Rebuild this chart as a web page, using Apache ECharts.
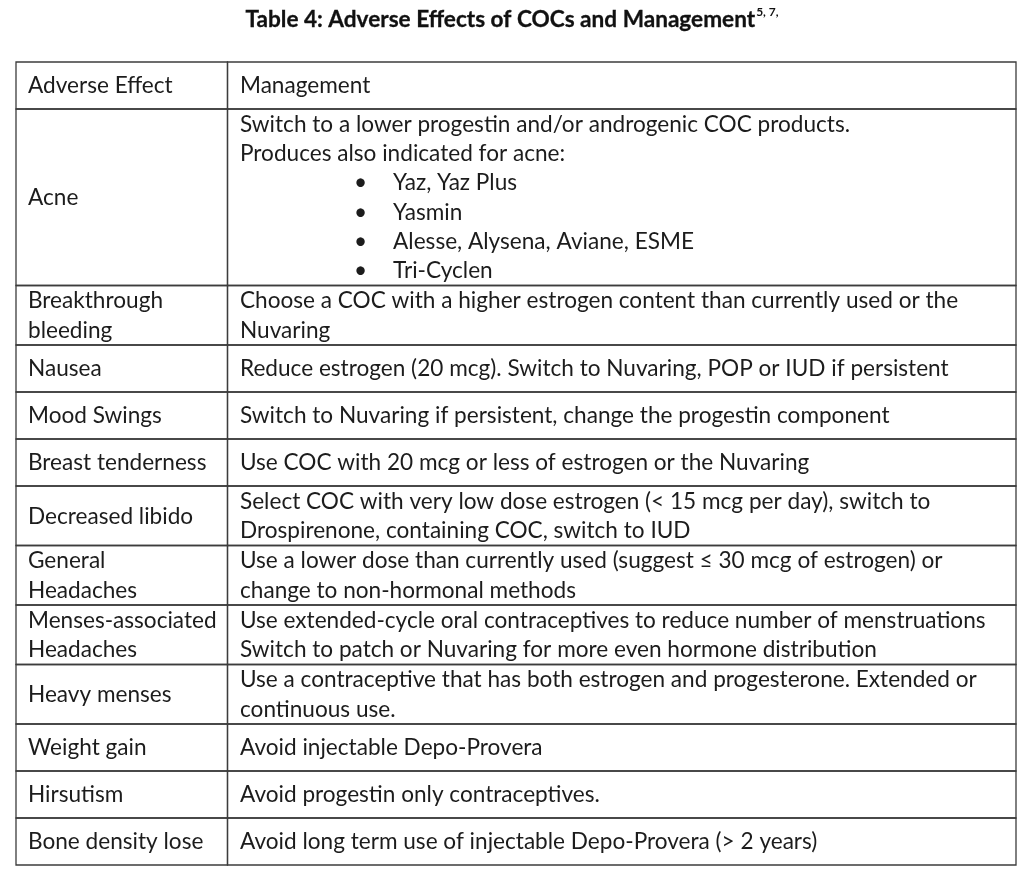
<!DOCTYPE html>
<html><head><meta charset="utf-8">
<script src="https://cdn.jsdelivr.net/npm/echarts@6/dist/echarts.min.js"></script>
</head><body style="margin:0;background:#fff">
<div id="c" style="width:1024px;height:871px"></div>
<script>
// table contents
const headers = ["Adverse Effect", "Management"];
const effects = [
  "Acne",
  "Breakthrough\nbleeding",
  "Nausea",
  "Mood Swings",
  "Breast tenderness",
  "Decreased libido",
  "General\nHeadaches",
  "Menses-associated\nHeadaches",
  "Heavy menses",
  "Weight gain",
  "Hirsutism",
  "Bone density lose",
];
const management = [
  "Switch to a lower progestin and/or androgenic COC products.\nProduces also indicated for acne:",
  "Choose a COC with a higher estrogen content than currently used or the\nNuvaring",
  "Reduce estrogen (20 mcg). Switch to Nuvaring, POP or IUD if persistent",
  "Switch to Nuvaring if persistent, change the progestin component",
  "Use COC with 20 mcg or less of estrogen or the Nuvaring",
  "Select COC with very low dose estrogen (< 15 mcg per day), switch to\nDrospirenone, containing COC, switch to IUD",
  "Use a lower dose than currently used (suggest \u2264 30 mcg of estrogen) or\nchange to non-hormonal methods",
  "Use extended-cycle oral contraceptives to reduce number of menstruations\nSwitch to patch or Nuvaring for more even hormone distribution",
  "Use a contraceptive that has both estrogen and progesterone. Extended or\ncontinuous use.",
  "Avoid injectable Depo-Provera",
  "Avoid progestin only contraceptives.",
  "Avoid long term use of injectable Depo-Provera (> 2 years)",
];
const acneProducts = ["Yaz, Yaz Plus", "Yasmin", "Alesse, Alysena, Aviane, ESME", "Tri-Cyclen"];

const FONT = "Lato";
const FS = 22.6;
const LH = 29.25;
const TABLE_W = 1000;
const COL1_W = 211.5;
const PAD = 12;

// build rows: [label, management text(with rich bullets)]
const rows = [[headers[0], headers[1]]].concat(
  effects.map((e, i) => {
    let m = management[i];
    if (e === "Acne") {
      m += "\n" + acneProducts.map((p) => "{b|\u2022}{t|" + p + "}").join("\n");
    }
    return [e, m];
  })
);

const lineCount = (s) => s.split("\n").length;
let acc = 0;
const rowData = rows.map((r, i) => {
  const n = Math.max(lineCount(r[0]), lineCount(r[1]));
  const h = Math.max(47, n * LH + 1);
  const item = [acc, acc + h, i];
  acc += h;
  return item;
});
const totalH = acc;

const chart = echarts.init(document.getElementById("c"));

const textStyle = {
  fontFamily: FONT,
  fontSize: FS,
  lineHeight: LH,
  fill: "#1c1c1c",
  verticalAlign: "middle",
  align: "left",
};

chart.setOption({
  backgroundColor: "#fff",
  animation: false,
  title: {
    left: "center",
    top: 1,
    text: "{m|Table 4: Adverse Effects of COCs and Management}{s|5, 7,}",
    textStyle: {
      rich: {
        m: { fontFamily: FONT, fontWeight: "bold", fontSize: 22.6, color: "#111", lineHeight: 28, textBorderColor: "#111", textBorderWidth: 0.3 },
        s: { fontFamily: FONT, fontSize: 12, color: "#111", lineHeight: 12, verticalAlign: "top", padding: [0, 0, 0, 1] },
      },
    },
  },
  grid: { left: 16, top: 62, width: TABLE_W, height: totalH },
  xAxis: { type: "value", min: 0, max: TABLE_W, show: false },
  yAxis: { type: "value", min: 0, max: totalH, inverse: true, show: false },
  series: [
    {
      type: "custom",
      coordinateSystem: "cartesian2d",
      data: rowData,
      renderItem: (params, api) => {
        const y0 = api.value(0);
        const y1 = api.value(1);
        const r = rows[api.value(2)];
        const pTL = api.coord([0, y0]);
        const pMid = api.coord([COL1_W, y1]);
        const pBR = api.coord([TABLE_W, y1]);
        const cy = (pTL[1] + pBR[1]) / 2 + 0.5;
        const border = { fill: "none", stroke: "#3c3c3c", lineWidth: 1.3 };
        return {
          type: "group",
          children: [
            { type: "rect", shape: { x: pTL[0], y: pTL[1], width: pMid[0] - pTL[0], height: pBR[1] - pTL[1] }, style: border },
            { type: "rect", shape: { x: pMid[0], y: pTL[1], width: pBR[0] - pMid[0], height: pBR[1] - pTL[1] }, style: border },
            { type: "text", x: pTL[0] + PAD, y: cy, style: Object.assign({ text: r[0] }, textStyle) },
            {
              type: "text",
              x: pMid[0] + PAD + 0.5,
              y: cy,
              style: Object.assign({ text: r[1] }, textStyle, {
                rich: {
                  b: { fontFamily: FONT, fontSize: FS, lineHeight: LH, fill: "#1c1c1c", padding: [0, 26, 0, 114] },
                  t: { fontFamily: FONT, fontSize: FS, lineHeight: LH, fill: "#1c1c1c" },
                },
              }),
            },
          ],
        };
      },
    },
  ],
});
</script>
</body></html>
